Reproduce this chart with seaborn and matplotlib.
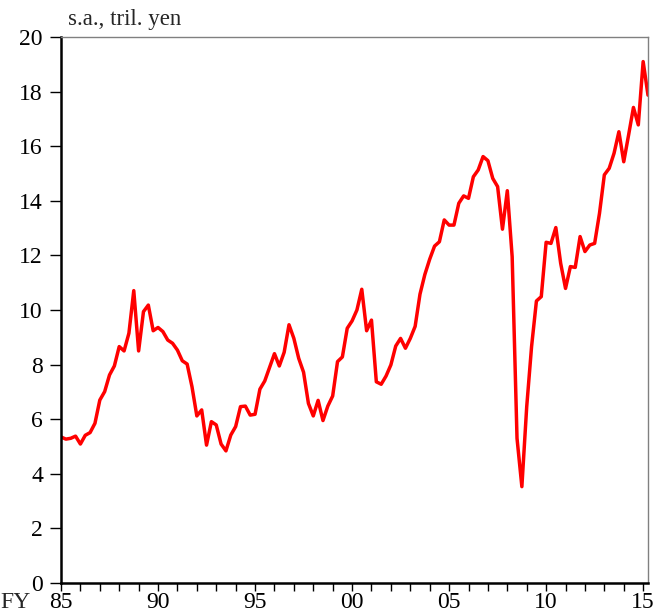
import numpy as np
import pandas as pd
import matplotlib
matplotlib.use("Agg")
import matplotlib.pyplot as plt
import seaborn as sns

# Quarterly data, FY1985 Q1 .. FY2015 Q2 (s.a., tril. yen)
start_fy = 1985
profits = [
    5.35, 5.27, 5.30, 5.38, 5.09, 5.41, 5.51, 5.85, 6.70, 7.01,
    7.62, 7.95, 8.66, 8.50, 9.15, 10.71, 8.50, 9.94, 10.18, 9.24,
    9.36, 9.21, 8.90, 8.78, 8.53, 8.14, 8.02, 7.19, 6.12, 6.34,
    5.05, 5.91, 5.79, 5.09, 4.84, 5.42, 5.73, 6.46, 6.48, 6.15,
    6.18, 7.10, 7.40, 7.90, 8.40, 7.95, 8.45, 9.46, 8.96, 8.23,
    7.72, 6.58, 6.12, 6.69, 5.95, 6.48, 6.85, 8.11, 8.28, 9.33,
    9.60, 10.00, 10.76, 9.24, 9.63, 7.37, 7.28, 7.58, 7.99, 8.68,
    8.96, 8.60, 8.96, 9.40, 10.58, 11.30, 11.86, 12.34, 12.50, 13.30,
    13.11, 13.11, 13.91, 14.18, 14.09, 14.88, 15.13, 15.62, 15.47, 14.82,
    14.52, 12.96, 14.37, 11.95, 5.30, 3.53, 6.46, 8.66, 10.33, 10.49,
    12.48, 12.44, 13.02, 11.71, 10.79, 11.59, 11.56, 12.69, 12.14, 12.38,
    12.44, 13.54, 14.95, 15.19, 15.74, 16.53, 15.43, 16.41, 17.42, 16.78,
    19.10, 17.87,
]
year_ticks = list(range(1985, 2016))
label_years = [1985, 1990, 1995, 2000, 2005, 2010, 2015]
label_texts = ["85", "90", "95", "00", "05", "10", "15"]
y_ticks = [0, 2, 4, 6, 8, 10, 12, 14, 16, 18, 20]
unit_label = "s.a., tril. yen"

n = len(profits)
df = pd.DataFrame({
    "fy": [start_fy + q // 4 for q in range(n)],
    "quarter": [q % 4 for q in range(n)],
    "value": profits,
})
df["t"] = df["fy"] + df["quarter"] / 4.0

sns.set_style("ticks")
plt.rcParams["font.family"] = ["Liberation Serif", "DejaVu Serif"]

fig = plt.figure(figsize=(6.66, 6.12), dpi=100)
ax = fig.add_axes([61 / 666, 1 - 583 / 612, (648 - 61) / 666, (583 - 37) / 612])

sns.lineplot(data=df, x="t", y="value", ax=ax, color="#ff0000", linewidth=2.5)

ax.set_xlim(1985, 1985 + (n - 1) / 4.0)
ax.set_ylim(0, 20)
ax.set_xticks(year_ticks)
ax.set_xticklabels([label_texts[label_years.index(y)] if y in label_years else "" for y in year_ticks])
ax.set_yticks(y_ticks)
ax.set_yticklabels([str(v) for v in y_ticks])
ax.set_xlabel("")
ax.set_ylabel("")

ax.tick_params(axis="both", direction="out", width=1, color="black",
               labelsize=17, labelcolor="black")
ax.tick_params(axis="x", length=6, pad=0.5)
ax.tick_params(axis="y", length=8, pad=5)

for side in ["left", "bottom"]:
    ax.spines[side].set_color("black")
    ax.spines[side].set_linewidth(1.8)
for side in ["top", "right"]:
    ax.spines[side].set_color("#808080")
    ax.spines[side].set_linewidth(1.0)
    ax.spines[side].set_visible(True)

fig.text(68 / 666, 1 - 20 / 612, unit_label, fontsize=16.5, ha="left", va="center")
fig.text(0 / 666, 1 - 602 / 612, "FY", fontsize=17, ha="left", va="center")

fig.savefig("out.png", dpi=100)
